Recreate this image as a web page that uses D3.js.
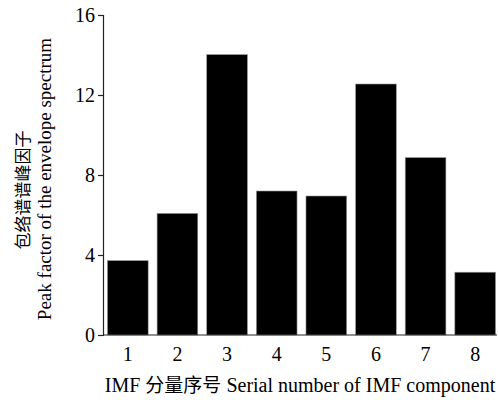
<!DOCTYPE html>
<meta charset="utf-8">
<style>
  body { margin: 0; background: #fff; }
  svg text { font-family: "Liberation Serif", "Times New Roman", Tinos, "DejaVu Serif", serif; fill: #000; }
  svg text.cjk, svg tspan.cjk { font-family: "Noto Sans CJK SC", sans-serif; }
</style>
<script src="https://d3js.org/d3.v7.min.js"></script>
<div id="chart"></div>
<script>
// data
var imfIndex = ["1", "2", "3", "4", "5", "6", "7", "8"];
var peakFactor = [3.72, 6.08, 14.02, 7.2, 6.95, 12.55, 8.87, 3.14];
var yTicks = [0, 4, 8, 12, 16];

var width = 498, height = 400;
var margin = {top: 15, right: 0, bottom: 65, left: 103};
var serif = '"Liberation Serif", "Times New Roman", Tinos, "DejaVu Serif", serif';

var svg = d3.select("#chart").append("svg")
  .attr("width", width)
  .attr("height", height);

var x = d3.scaleBand()
  .domain(imfIndex)
  .range([margin.left, 500])
  .paddingInner(0.18)
  .paddingOuter(0.09);

var y = d3.scaleLinear()
  .domain([0, 16])
  .range([height - margin.bottom, margin.top]);

// bars
svg.selectAll(".bar")
  .data(peakFactor)
  .enter()
  .append("rect")
    .attr("class", "bar")
    .attr("x", function(d, i) { return x(imfIndex[i]); })
    .attr("y", function(d) { return y(d); })
    .attr("width", x.bandwidth())
    .attr("height", function(d) { return y(0) - y(d); })
    .attr("fill", "#000")
    .attr("stroke", "#999")
    .attr("stroke-width", 0.6);

// y axis
var yAxis = svg.append("g")
  .attr("transform", "translate(" + margin.left + ",0)")
  .call(d3.axisLeft(y).tickValues(yTicks).tickSize(5).tickSizeOuter(5).tickPadding(3));
yAxis.attr("font-family", null).attr("font-size", null);
yAxis.selectAll("text")
  .attr("font-family", serif)
  .style("font-size", "20px");
yAxis.selectAll("path, line").attr("stroke", "#222").attr("stroke-width", 1.2);

// x axis line only, labels under each bar
var xAxis = svg.append("g")
  .attr("transform", "translate(0," + y(0) + ")")
  .call(d3.axisBottom(x).tickSize(0).tickSizeOuter(0).tickPadding(12));
xAxis.attr("font-family", null).attr("font-size", null);
xAxis.select(".domain").attr("stroke", "#222").attr("stroke-width", 1.2)
  .attr("d", "M" + margin.left + ",0H497");
xAxis.selectAll("text")
  .attr("font-family", serif)
  .style("font-size", "20px");

// x title
var xt = svg.append("text")
  .attr("x", 300)
  .attr("y", 392)
  .attr("text-anchor", "middle")
  .attr("font-family", serif)
  .style("font-size", "20px");
xt.append("tspan").text("IMF ");
xt.append("tspan").attr("class", "cjk").style("font-size", "19px").text("分量序号");
xt.append("tspan").text(" Serial number of IMF component");

// y title, two lines rotated
svg.append("text")
  .attr("class", "cjk")
  .attr("transform", "translate(29,190)rotate(-90)")
  .attr("text-anchor", "middle")
  .style("font-size", "17px")
  .text("包络谱谱峰因子");
svg.append("text")
  .attr("transform", "translate(51,179)rotate(-90)")
  .attr("text-anchor", "middle")
  .attr("font-family", serif)
  .style("font-size", "19px")
  .text("Peak factor of the envelope spectrum");
</script>
